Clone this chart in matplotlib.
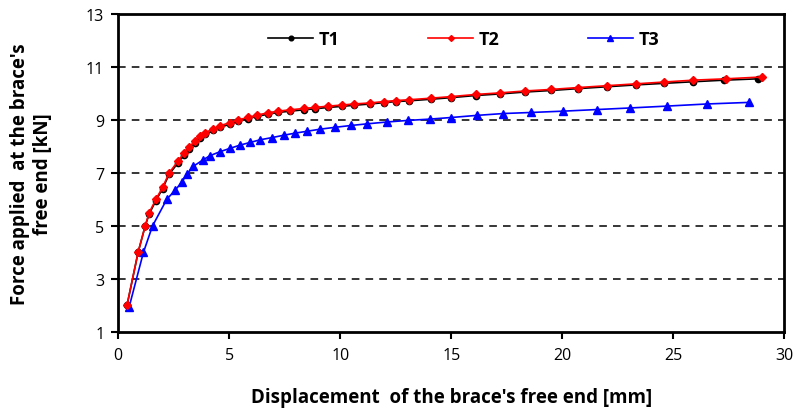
import matplotlib
matplotlib.use("Agg")
import matplotlib.pyplot as plt

t2_x = [0.4, 0.9, 1.22, 1.4, 1.7, 2.0, 2.3, 2.7, 2.97, 3.2, 3.47, 3.7, 3.92, 4.29, 4.59,
        5.05, 5.42, 5.87, 6.25, 6.77, 7.2, 7.75, 8.35, 8.87, 9.47, 10.08, 10.6, 11.35,
        11.95, 12.5, 13.1, 14.1, 15.0, 16.1, 17.2, 18.3, 19.5, 20.7, 22.0, 23.3, 24.6,
        25.9, 27.35, 29.0]
t2_y = [2.0, 4.0, 5.0, 5.5, 6.0, 6.45, 7.0, 7.45, 7.75, 7.97, 8.2, 8.38, 8.52, 8.66, 8.78,
        8.9, 9.0, 9.1, 9.18, 9.27, 9.33, 9.38, 9.43, 9.47, 9.52, 9.56, 9.6, 9.64,
        9.69, 9.73, 9.76, 9.82, 9.88, 9.96, 10.02, 10.09, 10.15, 10.22, 10.29, 10.36, 10.43,
        10.5, 10.55, 10.62]

t1_x = [0.4, 0.9, 1.22, 1.4, 1.7, 2.0, 2.3, 2.7, 2.97, 3.2, 3.47, 3.7, 3.92, 4.29, 4.59,
        5.05, 5.42, 5.87, 6.25, 6.77, 7.2, 7.75, 8.35, 8.87, 9.47, 10.08, 10.6, 11.35,
        11.95, 12.5, 13.1, 14.1, 15.0, 16.1, 17.2, 18.3, 19.5, 20.7, 22.0, 23.3, 24.6,
        25.9, 27.3, 28.8]
t1_y = [2.0, 4.0, 5.0, 5.45, 5.95, 6.4, 6.95, 7.38, 7.68, 7.9, 8.12, 8.3, 8.45, 8.6, 8.72,
        8.84, 8.95, 9.05, 9.13, 9.22, 9.28, 9.33, 9.38, 9.42, 9.47, 9.51, 9.55, 9.6,
        9.65, 9.69, 9.72, 9.78, 9.84, 9.92, 9.98, 10.05, 10.11, 10.18, 10.25, 10.32, 10.38,
        10.44, 10.5, 10.55]

t3_x = [0.5, 1.14, 1.55, 2.19, 2.57, 2.87, 3.09, 3.39, 3.84, 4.14, 4.59, 5.05, 5.5, 5.95,
        6.4, 6.92, 7.45, 7.97, 8.5, 9.1, 9.77, 10.5, 11.2, 12.1, 13.05, 14.05, 15.0, 16.15,
        17.35, 18.6, 20.05, 21.55, 23.05, 24.7, 26.5, 28.4]
t3_y = [1.95, 4.0, 5.0, 6.0, 6.35, 6.65, 6.95, 7.25, 7.5, 7.65, 7.8, 7.93, 8.05, 8.15,
        8.25, 8.33, 8.42, 8.5, 8.57, 8.65, 8.72, 8.79, 8.85, 8.92, 8.98, 9.03, 9.09, 9.17,
        9.24, 9.28, 9.33, 9.39, 9.45, 9.52, 9.6, 9.66]

x_ticks = [0, 5, 10, 15, 20, 25, 30]
y_ticks = [1, 3, 5, 7, 9, 11, 13]
grid_levels = [3, 5, 7, 9, 11]

plt.rcParams['font.family'] = ['Open Sans', 'DejaVu Sans']

fig = plt.figure(figsize=(7.98, 4.14), dpi=100)
ax = fig.add_axes([0.148, 0.196, 0.835, 0.768])

for g in grid_levels:
    ax.axhline(g, color='black', linestyle=(0, (5, 4)), linewidth=1.1, zorder=1)

ax.plot(t1_x, t1_y, color='black', marker='o', markersize=4.5, linewidth=1.2, label='T1', zorder=3)
ax.plot(t2_x, t2_y, color='red', marker='D', markersize=4, linewidth=1.2, label='T2', zorder=4)
ax.plot(t3_x, t3_y, color='blue', marker='^', markersize=5.5, linewidth=1.2, label='T3', zorder=3)

ax.set_xlim(0, 30)
ax.set_ylim(1, 13)
ax.set_xticks(x_ticks)
ax.set_yticks(y_ticks)
ax.tick_params(direction='out', length=5, width=1.5, labelsize=11.5)
ax.tick_params(axis='x', pad=6)
ax.tick_params(axis='y', pad=5)
for s in ax.spines.values():
    s.set_linewidth(2)

ax.set_xlabel("Displacement  of the brace's free end [mm]", fontsize=13.5, fontweight='bold', labelpad=17)
ax.set_ylabel("Force applied  at the brace's\nfree end [kN]", fontsize=13.5, fontweight='bold', labelpad=24)

leg = ax.legend(loc='center left', ncol=3, frameon=False, fontsize=13, markerscale=0.75,
                handlelength=2.5, handletextpad=0.3, columnspacing=4.9,
                borderpad=0, borderaxespad=0, bbox_to_anchor=(0.225, 0.921))
for t in leg.get_texts():
    t.set_fontweight('bold')

fig.savefig('out.png', dpi=100)
